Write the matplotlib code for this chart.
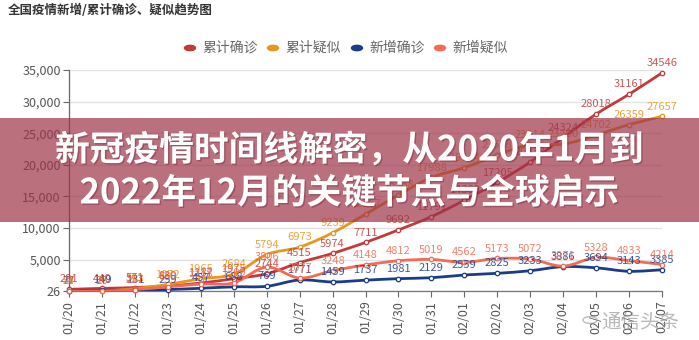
import matplotlib
matplotlib.use("Agg")
import matplotlib.pyplot as plt
from matplotlib.path import Path
from matplotlib.patches import PathPatch, Rectangle
import matplotlib.patheffects as pe

plt.rcParams['font.family'] = ['Noto Sans CJK SC', 'DejaVu Sans']

dates = ['01/20', '01/21', '01/22', '01/23', '01/24', '01/25', '01/26', '01/27',
         '01/28', '01/29', '01/30', '01/31', '02/01', '02/02', '02/03', '02/04',
         '02/05', '02/06', '02/07']
cum_confirmed = [291, 440, 571, 830, 1287, 1975, 2744, 4515, 5974, 7711, 9692,
                 11791, 14380, 17205, 20438, 24324, 28018, 31161, 34546]
cum_suspected = [54, 37, 393, 1072, 1965, 2684, 5794, 6973, 9239, 12167, 15238,
                 17988, 19544, 21558, 23214, 23260, 24702, 26359, 27657]
new_confirmed = [77, 149, 131, 259, 457, 688, 769, 1771, 1459, 1737, 1981,
                 2129, 2559, 2825, 3233, 3886, 3694, 3143, 3385]
new_suspected = [27, 26, 257, 680, 1118, 1309, 3806, 2077, 3248, 4148, 4812,
                 5019, 4562, 5173, 5072, 3971, 5328, 4833, 4214]

series_names = ['累计确诊', '累计疑似', '新增确诊', '新增疑似']
series_values = [cum_confirmed, cum_suspected, new_confirmed, new_suspected]
series_colors = ['#c23b3a', '#e8961c', '#1b3c8c', '#f26b52']

y_ticks = [26, 5000, 10000, 15000, 20000, 25000, 30000, 35000]

W, H = 699, 340
fig = plt.figure(figsize=(W / 100, H / 100), dpi=100)
fig.patch.set_facecolor('white')
ax = fig.add_axes([69 / W, 49 / H, (662 - 69) / W, (291 - 70) / H])


def smooth_path(xs, ys):
    verts = [(xs[0], ys[0])]
    codes = [Path.MOVETO]
    n = len(xs)
    for i in range(n - 1):
        x0, y0 = xs[max(i - 1, 0)], ys[max(i - 1, 0)]
        x1, y1 = xs[i], ys[i]
        x2, y2 = xs[i + 1], ys[i + 1]
        x3, y3 = xs[min(i + 2, n - 1)], ys[min(i + 2, n - 1)]
        c1 = (x1 + (x2 - x0) / 6, y1 + (y2 - y0) / 6)
        c2 = (x2 - (x3 - x1) / 6, y2 - (y3 - y1) / 6)
        verts += [c1, c2, (x2, y2)]
        codes += [Path.CURVE4] * 3
    return Path(verts, codes)


x = list(range(len(dates)))
for vals, col in zip(series_values, series_colors):
    patch = PathPatch(smooth_path(x, vals), facecolor='none', edgecolor=col,
                      lw=2.0, zorder=3, capstyle='round', joinstyle='round')
    ax.add_patch(patch)
    ax.plot(x, vals, ls='none', marker='o', ms=3.2, mfc='white', mec=col,
            mew=0.9, zorder=4, clip_on=False)

for vals, col in zip(series_values, series_colors):
    for xi, v in zip(x, vals):
        ax.annotate(f'{v}', (xi, v), xytext=(0, 3.5), textcoords='offset points',
                    ha='center', va='bottom', fontsize=8, color=col, alpha=0.85,
                    zorder=5, annotation_clip=False)

ax.set_xlim(0, len(dates) - 1)
ax.set_ylim(26, 35000)
ax.set_yticks(y_ticks)
ax.set_yticklabels([f'{t:,}' for t in y_ticks])
ax.set_xticks(x)
ax.set_xticklabels(dates, rotation=90)
ax.tick_params(axis='y', length=4, width=0.8, color='#666666', labelsize=9,
               labelcolor='#555555', pad=2)
ax.tick_params(axis='x', length=4, width=0.8, color='#666666', labelsize=9,
               labelcolor='#555555', pad=3)
ax.grid(axis='y', color='#e2e2e2', lw=1.0, zorder=0)
ax.set_axisbelow(True)
for side in ['top', 'right']:
    ax.spines[side].set_visible(False)
ax.spines['left'].set_color('#666666')
ax.spines['bottom'].set_color('#777777')
ax.spines['left'].set_linewidth(0.9)
ax.spines['bottom'].set_linewidth(0.9)

# heading
fig.text(8 / W, 1 - 10 / H, '全国疫情新增/累计确诊、疑似趋势图', ha='left', va='center',
         fontsize=9, fontweight='bold', color='#333333')

# legend row
leg_x = [190, 273, 357, 440]
for lx, name, col in zip(leg_x, series_names, series_colors):
    fig.patches.append(plt.Circle((lx / W, 1 - 48 / H), 5.5 / W,
                                  transform=fig.transFigure, color=col,
                                  figure=fig))
    fig.text((lx + 12) / W, 1 - 48 / H, name, ha='left', va='center',
             fontsize=10, color='#666666')

# overlay banner
fig.patches.append(Rectangle((0, 1 - 222 / H), 1, (222 - 118) / H,
                             transform=fig.transFigure, facecolor='#9e3348',
                             alpha=0.7, edgecolor='none', zorder=10, figure=fig))
for ty, line in [(150, '新冠疫情时间线解密，从2020年1月到'),
                 (193, '2022年12月的关键节点与全球启示')]:
    fig.text(0.5, 1 - ty / H, line, ha='center', va='center', fontsize=25,
             fontweight='bold', color='white', zorder=11,
             path_effects=[pe.withSimplePatchShadow(offset=(1, -1),
                                                    shadow_rgbFace='#5a1a2a',
                                                    alpha=0.35)])

# watermark
fig.text(640 / W, 1 - 322 / H, '通信头条', ha='center', va='center',
         fontsize=14, color='#9a9a9a', alpha=0.7, zorder=12)
fig.patches.append(plt.Circle((590 / W, 1 - 320 / H), 7 / W,
                              transform=fig.transFigure, facecolor='none',
                              edgecolor='#a0a0a0', lw=1.0, alpha=0.7,
                              zorder=12, figure=fig))

fig.savefig('out.png', dpi=100)
